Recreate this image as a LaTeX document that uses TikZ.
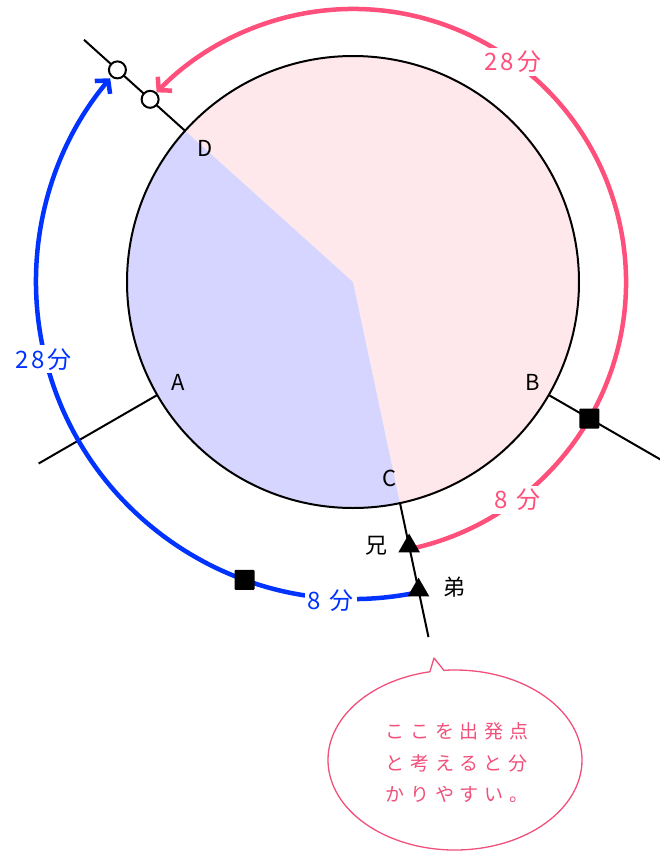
\documentclass[tikz,border=0pt]{standalone}
\usepackage{fontspec}
\setmainfont{Noto Sans CJK JP}
\newfontfamily\jplabel[LetterSpace=12]{Noto Sans CJK JP}
\newfontfamily\jpnote[LetterSpace=30]{Noto Sans CJK JP}
\usetikzlibrary{positioning, calc, shapes.geometric, arrows.meta}
\definecolor{RoutePink}{HTML}{FF4F7B}
\definecolor{RouteBlue}{HTML}{0033FF}
\definecolor{FillPink}{HTML}{FFE8EC}
\definecolor{FillBlue}{HTML}{D5D5FF}
\definecolor{NotePink}{HTML}{F0507A}

\begin{document}
\begin{tikzpicture}[x=1pt, y=1pt, font=\fontsize{22}{26}\selectfont,
    radial/.style={line width=2pt},
    route/.style={line width=4.5pt, line cap=round},
    opendot/.style={circle, draw, line width=2pt, fill=white, minimum size=17pt, inner sep=0pt},
    squaredot/.style={rectangle, fill=black, minimum size=20pt, inner sep=0pt, rounded corners=1pt},
    tridot/.style={regular polygon, regular polygon sides=3, fill=black, minimum size=25pt, inner sep=0pt},
    timelabel/.style={fill=white, inner sep=3pt, font=\jplabel\fontsize{24}{28}\selectfont},
  ]
  \useasboundingbox (0,0) rectangle (660,-852);
  \coordinate (O) at (353,-282);

  % Sectors
  \fill[FillPink] (O) -- ($(O)+(-78:226)$) arc[start angle=-78, end angle=138, radius=226] -- cycle;
  \fill[FillBlue] (O) -- ($(O)+(138:226)$) arc[start angle=138, end angle=282, radius=226] -- cycle;
  \draw[line width=2pt] (O) circle[radius=226];

  % Radial lines
  \foreach \pt/\ang/\len in {D/138/362, A/210/363, B/330/357, C/282/363} {
    \coordinate (in\pt) at ($(O)+(\ang:226)$);
    \coordinate (out\pt) at ($(O)+(\ang:\len)$);
    \draw[radial] (in\pt) -- (out\pt);
  }

  % Points on the circle
  \node (lblD) at (205,-148) {D};
  \node (lblA) at (178,-382) {A};
  \node (lblB) at (533,-382) {B};
  \node (lblC) at (390,-478) {C};

  % Routes
  \draw[route, RoutePink, -{Straight Barb[length=9pt, width=20pt]}]
    ($(O)+(-78:273)$) arc[start angle=-78, end angle=136, radius=273];
  \draw[route, RouteBlue, -{Straight Barb[length=9pt, width=20pt]}]
    ($(O)+(282:317)$) arc[start angle=282, end angle=140, radius=317];

  \node[timelabel, text=RoutePink] (pinkLong) at ($(O)+(54:272)$) {28分};
  \node[timelabel, text=RoutePink] (pinkShort) at ($(O)+(-53:273)$) {8 分};
  \node[timelabel, text=RouteBlue] (blueLong) at ($(O)+(194:319)$) {28分};
  \node[timelabel, text=RouteBlue] (blueShort) at ($(O)+(266:319)$) {8 分};

  % Markers
  \node[opendot] (meetBlue) at ($(O)+(138:317)$) {};
  \node[opendot] (meetPink) at ($(O)+(138:273)$) {};
  \node[squaredot] (sqPink) at ($(O)+(-30:273)$) {};
  \node[squaredot] (sqBlue) at ($(O)+(250:317)$) {};
  \node[tridot] (ani) at ($(O)+(-78:270)$) {};
  \node[tridot] (otouto) at ($(O)+(-78:315)$) {};
  \node (lblAni) at (376,-546) {兄};
  \node (lblOtouto) at (454,-587) {弟};

  % Speech bubble
  \coordinate (bub) at (455,-760);
  \draw[NotePink, line width=1.3pt, line join=round]
    (434,-658) -- ($(bub)+(101.4:127 and 90)$)
    arc[start angle=101.4, end angle=455, x radius=127, y radius=90] -- cycle;
  \node[text=NotePink, align=left, font=\jpnote\fontsize{19}{31.5}\selectfont] (note) at (457,-763)
    {ここを出発点\\と考えると分\\かりやすい。};
\end{tikzpicture}
\end{document}
